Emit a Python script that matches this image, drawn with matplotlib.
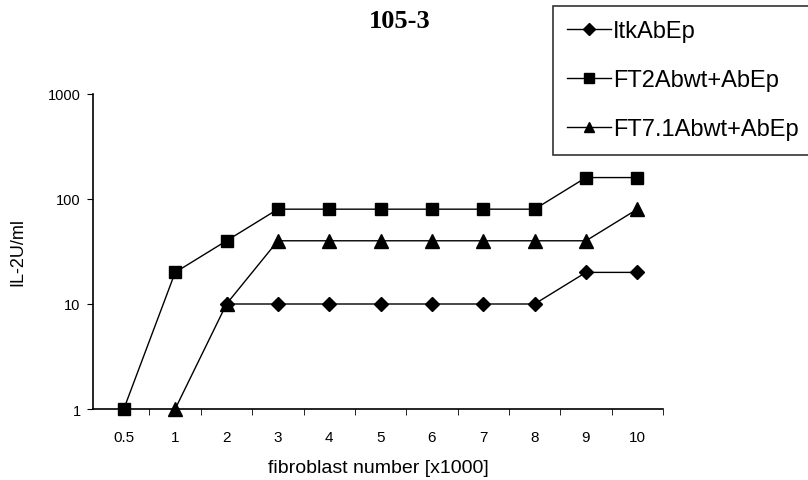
import numpy as np
import matplotlib
matplotlib.use("Agg")
import matplotlib.pyplot as plt

categories = ["0.5", "1", "2", "3", "4", "5", "6", "7", "8", "9", "10"]
itk = [np.nan, np.nan, 10, 10, 10, 10, 10, 10, 10, 20, 20]
ft2 = [1, 20, 40, 80, 80, 80, 80, 80, 80, 160, 160]
ft71 = [np.nan, 1, 10, 40, 40, 40, 40, 40, 40, 40, 80]
series_names = ["ItkAbEp", "FT2Abwt+AbEp", "FT7.1Abwt+AbEp"]
yticks = [1, 10, 100, 1000]

plt.rcParams['font.family'] = ['Liberation Sans', 'DejaVu Sans']

fig = plt.figure(figsize=(8.08, 4.81), dpi=100)
ax = fig.add_axes([93/808, 1-410/481, (663-93)/808, (410-95)/481])

x = np.arange(len(categories))
ax.plot(x, itk, color='black', lw=1, marker='D', ms=7.5, label=series_names[0], zorder=3)
ax.plot(x, ft2, color='black', lw=1, marker='s', ms=9, label=series_names[1], zorder=3)
ax.plot(x, ft71, color='black', lw=1, marker='^', ms=10, label=series_names[2], zorder=3)

ax.set_yscale('log')
ax.set_ylim(1, 1000)
ax.set_xlim(-0.6, len(categories) - 0.5)
ax.set_yticks(yticks)
ax.set_yticklabels([str(v) for v in yticks], fontsize=10.5)
ax.yaxis.set_minor_locator(matplotlib.ticker.NullLocator())
ax.set_xticks(x)
ax.set_xticklabels(categories, fontsize=11)
ax.tick_params(axis='x', length=0, pad=15)
ax.set_xticks(np.arange(len(categories)) + 0.5, minor=True)
ax.tick_params(axis='x', which='minor', length=4, direction='out')
ax.tick_params(axis='y', length=4, direction='out', pad=5)
for s in ['top', 'right']:
    ax.spines[s].set_visible(False)
for s in ['left', 'bottom']:
    ax.spines[s].set_linewidth(1.2)
for m in ax.get_lines():
    m.set_clip_on(False)

ax.set_xlabel("fibroblast number [x1000]", fontsize=14, labelpad=11)
ax.set_ylabel("IL-2U/ml", fontsize=13, labelpad=15)

fig.text(400/808, 1-21/481, "105-3", family='Liberation Serif', fontweight='bold',
         fontsize=19, ha='center', va='center')

leg = fig.legend(loc='upper left', bbox_to_anchor=(553/808, 1-7/481), borderaxespad=0,
                 fontsize=17, frameon=True, fancybox=False, edgecolor='black',
                 handlelength=1.85, handletextpad=0.1, labelspacing=1.15, borderpad=0.6,
                 markerscale=0.75)
leg.get_frame().set_linewidth(1.2)

fig.savefig("out.png", dpi=100)
